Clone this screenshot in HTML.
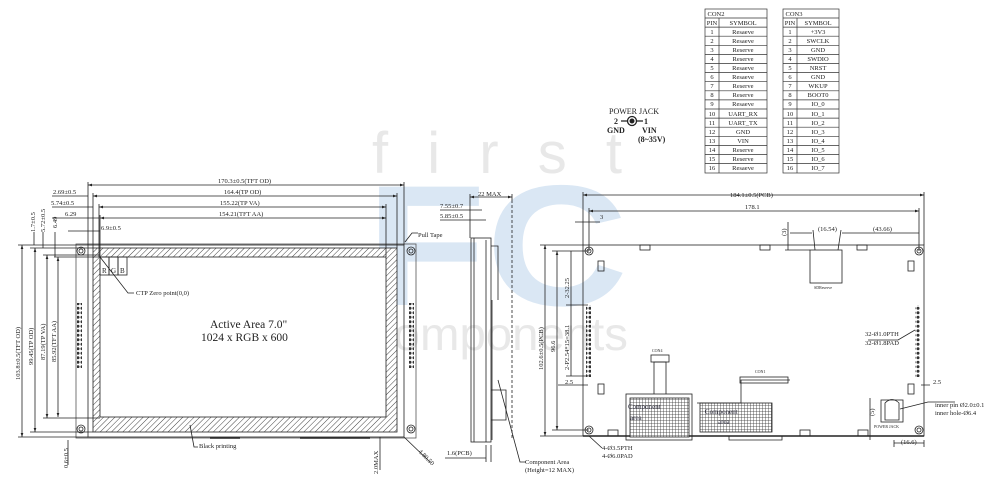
<!DOCTYPE html>
<html><head><meta charset="utf-8"><style>
html,body{margin:0;padding:0;background:#fff}
svg{display:block}
text{font-family:"Liberation Serif",serif;fill:#222}
text.wm{font-family:"Liberation Sans",sans-serif}
</style></head><body>
<svg width="1000" height="490" viewBox="0 0 1000 490" xmlns="http://www.w3.org/2000/svg">
<defs>
<pattern id="hatch" width="4" height="4" patternUnits="userSpaceOnUse" patternTransform="rotate(45)">
<rect width="4" height="4" fill="#fff"/><line x1="0" y1="0" x2="0" y2="4" stroke="#444" stroke-width="1"/></pattern>
<pattern id="dots" width="4" height="4.5" patternUnits="userSpaceOnUse"><circle cx="2" cy="2.2" r="1.5" fill="#333"/></pattern>
<pattern id="grid" width="3" height="3" patternUnits="userSpaceOnUse"><rect width="3" height="3" fill="#fff"/><path d="M0 0H3M0 0V3" stroke="#333" stroke-width="0.8"/></pattern>
<marker id="a" viewBox="0 0 6 6" refX="6" refY="3" markerWidth="5" markerHeight="5" orient="auto-start-reverse"><path d="M0 1L6 3L0 5z" fill="#222"/></marker>
</defs>

<!-- watermark -->
<text class="wm" x="372" y="173" font-size="58" style="fill:#e8e8e8" textLength="250" lengthAdjust="spacing">first</text>
<text class="wm" x="366" y="305" font-size="172" font-weight="bold" style="fill:#dae7f4" textLength="262" lengthAdjust="spacingAndGlyphs">FC</text>
<text class="wm" x="370" y="350" font-size="46" style="fill:#e8e8e8" textLength="258" lengthAdjust="spacingAndGlyphs">components</text>

<g stroke="#222" stroke-width="0.8" fill="none">
<!-- FRONT VIEW -->
<rect x="76" y="244" width="340" height="194" stroke="#555"/>
<rect x="88" y="245" width="316" height="192"/>
<rect x="93" y="248" width="304" height="184" fill="url(#hatch)"/>
<rect x="100" y="257" width="286" height="160" fill="#fff"/>
<circle cx="81" cy="251" r="4"/><circle cx="81" cy="251" r="2"/>
<circle cx="81" cy="429" r="4"/><circle cx="81" cy="429" r="2"/>
<circle cx="411" cy="251" r="4"/><circle cx="411" cy="251" r="2"/>
<circle cx="411" cy="429" r="4"/><circle cx="411" cy="429" r="2"/>
<rect x="100" y="257" width="9" height="18"/><rect x="109" y="257" width="9" height="18"/><rect x="118" y="257" width="9" height="18"/>
<path d="M100 257L128 293H134"/>
<path d="M190 425L194 447H198"/>
<path d="M404 437L430 462"/>
<path d="M405 242L412 233H418"/>
<path d="M210 438H240M300 438H370" stroke-width="1.5"/>
<path d="M88 185H404" marker-start="url(#a)" marker-end="url(#a)"/>
<path d="M93 196H397" marker-start="url(#a)" marker-end="url(#a)"/>
<path d="M99 207H386" marker-start="url(#a)" marker-end="url(#a)"/>
<path d="M100 218H386" marker-start="url(#a)" marker-end="url(#a)"/>
<path d="M88 182V245M93 193V248M99 204V257M100 215V257M386 204V257M397 193V248M404 182V245"/>
<path d="M52 196H88M52 207H93M52 218H99"/>
<path d="M68 231H100"/>
<path d="M22 245V437" marker-start="url(#a)" marker-end="url(#a)"/>
<path d="M35 248V432" marker-start="url(#a)" marker-end="url(#a)"/>
<path d="M47 255V418" marker-start="url(#a)" marker-end="url(#a)"/>
<path d="M58 257V417" marker-start="url(#a)" marker-end="url(#a)"/>
<path d="M18 245H88M30 248H93M43 255H100M54 257H100M43 418H100M30 432H93M18 437H88"/>
<path d="M34 232V245M43 232V248M55 232V257"/>
<path d="M68 440V465M380 437V470"/>
<!-- SIDE VIEW -->
<rect x="471" y="238" width="20" height="204"/>
<path d="M474 238V442M486 240V442M491 246H498V300M492 300V440M491 390H506V420H491"/>
<path d="M512 200V440" stroke-dasharray="3,2"/>
<path d="M470 197H512" marker-start="url(#a)" marker-end="url(#a)"/>
<path d="M470 194V238M512 194V200"/>
<path d="M440 210H482M440 220H486"/>
<path d="M445 458H486M486 445V462M491 445V462"/>
<path d="M498 380L520 462H526"/>
<!-- BACK VIEW -->
<rect x="583" y="245" width="341" height="191"/>
<path d="M583 436H924" stroke-width="1.5"/>
<circle cx="589" cy="251" r="4"/><circle cx="589" cy="251" r="2"/>
<circle cx="919" cy="251" r="4"/><circle cx="919" cy="251" r="2"/>
<circle cx="589" cy="430" r="4"/><circle cx="589" cy="430" r="2"/>
<circle cx="919" cy="430" r="4"/><circle cx="919" cy="430" r="2"/>
<path d="M583 195H924" marker-start="url(#a)" marker-end="url(#a)"/>
<path d="M589 211H919" marker-start="url(#a)" marker-end="url(#a)"/>
<path d="M583 192V245M924 192V245M589 208V251M919 208V251"/>
<path d="M575 222H589M589 222H600"/>
<path d="M545 245V436" marker-start="url(#a)" marker-end="url(#a)"/>
<path d="M557 251V430" marker-start="url(#a)" marker-end="url(#a)"/>
<path d="M571 251V305M571 305V376"/>
<path d="M540 245H583M552 251H589M552 430H589M540 436H583M566 305H588M566 376H588"/>
<path d="M558 385H588M921 385H930"/>
<rect x="810" y="250" width="32" height="33"/>
<path d="M813 230L815 250M841 230L838 250M842 233H919M812 233H790"/>
<path d="M788 222V250M785 250H810"/>
<rect x="598" y="261" width="6" height="10"/><rect x="908" y="261" width="6" height="10"/>
<rect x="598" y="384" width="6" height="10"/><rect x="908" y="384" width="6" height="10"/>
<rect x="640" y="245" width="10" height="5"/><rect x="760" y="245" width="10" height="5"/><rect x="857" y="245" width="10" height="5"/>
<rect x="608" y="430" width="10" height="6"/><rect x="800" y="430" width="10" height="6"/><rect x="858" y="430" width="10" height="6"/>
<rect x="626" y="394" width="66" height="46"/>
<rect x="630" y="398" width="59" height="39" fill="url(#grid)"/>
<path d="M654 394V362H666V394"/><rect x="651" y="355" width="18" height="7"/>
<rect x="700" y="403" width="72" height="29" fill="url(#grid)"/>
<path d="M697 403H741V380H790"/><rect x="740" y="377" width="48" height="6"/>
<path d="M729 436V440H782V436"/>
<rect x="881" y="400" width="22" height="22"/><path d="M885 403Q892 396 899 403V420H885Z"/>
<path d="M900 409L928 402H955"/>
<path d="M870 398V440M894 440V447M924 440V447M894 443H924"/>
<path d="M915 330L898 340H868"/>
<path d="M589 436L602 448"/>
</g>
<rect x="77" y="303" width="5" height="65" fill="url(#dots)"/>
<rect x="409" y="303" width="5" height="65" fill="url(#dots)"/>
<rect x="586" y="305" width="5" height="72" fill="url(#dots)"/>
<rect x="915" y="305" width="5" height="72" fill="url(#dots)"/>

<g font-size="6.5">
<text x="218" y="183">170.3±0.5(TFT OD)</text>
<text x="224" y="194">164.4(TP OD)</text>
<text x="220" y="205">155.22(TP VA)</text>
<text x="219" y="216">154.21(TFT AA)</text>
<text x="53" y="194">2.69±0.5</text>
<text x="51" y="205">5.74±0.5</text>
<text x="65" y="216">6.29</text>
<text x="101" y="230">6.9±0.5</text>
<text x="136" y="295">CTP Zero point(0,0)</text>
<text x="418" y="237">Pull Tape</text>
<text x="199" y="448">Black printing</text>
<text x="102" y="273" font-size="7">R</text><text x="111" y="273" font-size="7">G</text><text x="120" y="273" font-size="7">B</text>
<text transform="translate(20,380) rotate(-90)">103.8±0.5(TFT OD)</text>
<text transform="translate(33,365) rotate(-90)">99.45(TP OD)</text>
<text transform="translate(45,360) rotate(-90)">87.19(TP VA)</text>
<text transform="translate(56,362) rotate(-90)">85.92(TFT AA)</text>
<text transform="translate(35,232) rotate(-90)">1.7±0.5</text>
<text transform="translate(45,232) rotate(-90)">5.72±0.5</text>
<text transform="translate(57,228) rotate(-90)">6.49</text>
<text transform="translate(68,468) rotate(-90)">0.6±0.5</text>
<text transform="translate(378,474) rotate(-90)">2.0MAX</text>
<text transform="translate(418,452) rotate(45)">4.80.50</text>
<text x="478" y="196">22 MAX</text>
<text x="440" y="208">7.55±0.7</text>
<text x="440" y="218">5.85±0.5</text>
<text x="447" y="455">1.6(PCB)</text>
<text x="525" y="464">Component Area</text>
<text x="525" y="472">(Height=12 MAX)</text>
<text x="730" y="197">184.1±0.5(PCB)</text>
<text x="745" y="209">178.1</text>
<text x="600" y="219">3</text>
<text x="818" y="231">(16.54)</text>
<text x="873" y="231">(43.66)</text>
<text transform="translate(786,236) rotate(-90)">(3)</text>
<text transform="translate(543,370) rotate(-90)">102.6±0.5(PCB)</text>
<text transform="translate(555,352) rotate(-90)">96.6</text>
<text transform="translate(569,298) rotate(-90)">2-32.25</text>
<text transform="translate(569,370) rotate(-90)">2-P2.54*15=38.1</text>
<text x="565" y="384">2.5</text>
<text x="933" y="384">2.5</text>
<text x="865" y="336">32-Ø1.0PTH</text>
<text x="865" y="345">32-Ø1.8PAD</text>
<text x="935" y="407">inner pin Ø2.0±0.1</text>
<text x="935" y="415">inner hole-Ø6.4</text>
<text x="901" y="444">(16.6)</text>
<text transform="translate(874,416) rotate(-90)">(5)</text>
<text x="602" y="450">4-Ø3.5PTH</text>
<text x="602" y="458">4-Ø6.0PAD</text>
<text x="210" y="328" font-size="11.5">Active Area 7.0"</text>
<text x="201" y="341" font-size="11.5">1024 x RGB x 600</text>
<text x="628" y="409" font-size="7" style="fill:#334">Component</text>
<text x="630" y="420" font-size="7" style="fill:#334">area</text>
<text x="705" y="414" font-size="7" style="fill:#334">Component</text>
<text x="718" y="424" font-size="7" style="fill:#334">area</text>
<text x="652" y="352" font-size="4">CON4</text>
<text x="755" y="373" font-size="4">CON1</text>
<text x="814" y="289" font-size="4">SDReserve</text>
<text x="874" y="428" font-size="4">POWER JACK</text>
</g>

<g font-size="8" font-weight="bold">
<text x="609" y="114" font-weight="normal">POWER JACK</text>
<text x="614" y="124">2</text><text x="644" y="124">1</text>
<text x="607" y="133">GND</text><text x="642" y="133">VIN</text>
<text x="638" y="142">(8~35V)</text>
</g>
<g stroke="#222" stroke-width="1.3" fill="none">
<path d="M621 121H627M637 121H643"/><circle cx="632" cy="121" r="4.5"/></g>
<circle cx="632" cy="121" r="2.5" fill="#222"/>

<g stroke="#333" stroke-width="0.7" fill="none">
<rect x="705" y="9" width="62" height="164"/>
<rect x="783" y="9" width="56" height="164"/>
<path d="M719 18V173M797 18V173"/>
<path d="M705 18H767M705 27.1H767M705 36.2H767M705 45.3H767M705 54.4H767M705 63.5H767M705 72.6H767M705 81.7H767M705 90.8H767M705 99.9H767M705 109H767M705 118.1H767M705 127.2H767M705 136.3H767M705 145.4H767M705 154.5H767M705 163.6H767"/>
<path d="M783 18H839M783 27.1H839M783 36.2H839M783 45.3H839M783 54.4H839M783 63.5H839M783 72.6H839M783 81.7H839M783 90.8H839M783 99.9H839M783 109H839M783 118.1H839M783 127.2H839M783 136.3H839M783 145.4H839M783 154.5H839M783 163.6H839"/>
</g>
<g font-size="6.5" text-anchor="middle">
<text x="716" y="16">CON2</text><text x="794" y="16">CON3</text>
<text x="712" y="25">PIN</text><text x="743" y="25">SYMBOL</text>
<text x="790" y="25">PIN</text><text x="818" y="25">SYMBOL</text>
<text x="712" y="34">1</text><text x="743" y="34">Resaeve</text>
<text x="712" y="43">2</text><text x="743" y="43">Resaeve</text>
<text x="712" y="52">3</text><text x="743" y="52">Reserve</text>
<text x="712" y="61">4</text><text x="743" y="61">Reserve</text>
<text x="712" y="70">5</text><text x="743" y="70">Resaeve</text>
<text x="712" y="79">6</text><text x="743" y="79">Resaeve</text>
<text x="712" y="88">7</text><text x="743" y="88">Reserve</text>
<text x="712" y="97">8</text><text x="743" y="97">Reserve</text>
<text x="712" y="106">9</text><text x="743" y="106">Resaeve</text>
<text x="712" y="116">10</text><text x="743" y="116">UART_RX</text>
<text x="712" y="125">11</text><text x="743" y="125">UART_TX</text>
<text x="712" y="134">12</text><text x="743" y="134">GND</text>
<text x="712" y="143">13</text><text x="743" y="143">VIN</text>
<text x="712" y="152">14</text><text x="743" y="152">Reserve</text>
<text x="712" y="161">15</text><text x="743" y="161">Reserve</text>
<text x="712" y="170">16</text><text x="743" y="170">Resaeve</text>
<text x="790" y="34">1</text><text x="818" y="34">+3V3</text>
<text x="790" y="43">2</text><text x="818" y="43">SWCLK</text>
<text x="790" y="52">3</text><text x="818" y="52">GND</text>
<text x="790" y="61">4</text><text x="818" y="61">SWDIO</text>
<text x="790" y="70">5</text><text x="818" y="70">NRST</text>
<text x="790" y="79">6</text><text x="818" y="79">GND</text>
<text x="790" y="88">7</text><text x="818" y="88">WKUP</text>
<text x="790" y="97">8</text><text x="818" y="97">BOOT0</text>
<text x="790" y="106">9</text><text x="818" y="106">IO_0</text>
<text x="790" y="116">10</text><text x="818" y="116">IO_1</text>
<text x="790" y="125">11</text><text x="818" y="125">IO_2</text>
<text x="790" y="134">12</text><text x="818" y="134">IO_3</text>
<text x="790" y="143">13</text><text x="818" y="143">IO_4</text>
<text x="790" y="152">14</text><text x="818" y="152">IO_5</text>
<text x="790" y="161">15</text><text x="818" y="161">IO_6</text>
<text x="790" y="170">16</text><text x="818" y="170">IO_7</text>
</g>
</svg>
</body></html>
